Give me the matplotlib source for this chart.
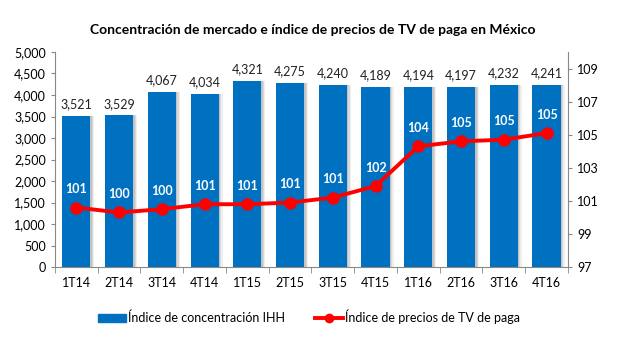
import matplotlib
matplotlib.use('Agg')
import matplotlib.pyplot as plt
from matplotlib.lines import Line2D
from matplotlib.patches import Patch
import numpy as np

# ── DATA ──────────────────────────────────────────────────────
quarters = ["1T14", "2T14", "3T14", "4T14", "1T15", "2T15",
            "3T15", "4T15", "1T16", "2T16", "3T16", "4T16"]
ihh = [3521, 3529, 4067, 4034, 4321, 4275, 4240, 4189, 4194, 4197, 4232, 4241]
precios = [100.6, 100.3, 100.5, 100.8, 100.8, 100.9,
           101.2, 101.9, 104.3, 104.6, 104.7, 105.1]

BLUE = '#0070C0'
RED = '#FF0000'
plt.rcParams['font.family'] = ['Lato', 'DejaVu Sans']

fig = plt.figure(figsize=(6.18, 3.42), dpi=100)
ax = fig.add_axes([0.089, 0.219, 0.830, 0.629])
x = np.arange(len(quarters))

# bars with a soft shadow on the right side
for off, a in [(0.09, 0.15), (0.06, 0.25), (0.035, 0.35)]:
    ax.bar(x + off, ihh, width=0.66, color='#9a9a9a', alpha=a, lw=0, zorder=1)
ax.bar(x, ihh, width=0.66, color=BLUE, zorder=2)
for xi, v in zip(x, ihh):
    ax.text(xi, v + 130, f"{v:,}", ha='center', va='bottom', fontsize=9, color='#222222')

ax.set_xlim(-0.5, len(quarters) - 0.5)
ax.set_ylim(0, 5000)
ax.set_yticks(np.arange(0, 5001, 500))
ax.set_yticklabels([f"{v:,}" for v in range(0, 5001, 500)], fontsize=9)
ax.set_xticks(x)
ax.set_xticklabels(quarters, fontsize=9)
ax.tick_params(axis='x', length=0, pad=7)
ax.set_xticks(np.arange(-0.5, len(quarters)), minor=True)
ax.tick_params(axis='x', which='minor', length=4, color='#888888')
ax.tick_params(axis='y', length=3, color='#888888')
for s in ['top', 'right']:
    ax.spines[s].set_visible(False)
for s in ['left', 'bottom']:
    ax.spines[s].set_color('#888888')

# price index on secondary axis
ax2 = ax.twinx()
ax2.plot(x, precios, color=RED, lw=2.8, marker='o', ms=8, zorder=3)
for xi, v in zip(x, precios):
    ax2.text(xi, v + 0.75, f"{v:.0f}", ha='center', va='bottom',
             fontsize=9, color='white', fontweight='bold')
ax2.set_ylim(97, 110)
ax2.set_yticks(np.arange(97, 110, 2))
ax2.tick_params(axis='y', labelsize=9, length=3, color='#888888')
for s in ['top', 'left', 'bottom']:
    ax2.spines[s].set_visible(False)
ax2.spines['right'].set_color('#888888')

fig.text(0.506, 0.912, "Concentración de mercado e índice de precios de TV de paga en México",
         ha='center', va='center', fontsize=10, fontweight='bold')

handles = [Patch(color=BLUE),
           Line2D([], [], color=RED, lw=2.8, marker='o', ms=6)]
fig.legend(handles, ["Índice de concentración IHH", "Índice de precios de TV de paga"],
           loc='center', bbox_to_anchor=(0.5, 0.073), ncol=2, frameon=False,
           fontsize=9, handlelength=2.2, handletextpad=0.2, columnspacing=2.4)

fig.savefig("out.png", dpi=100)
